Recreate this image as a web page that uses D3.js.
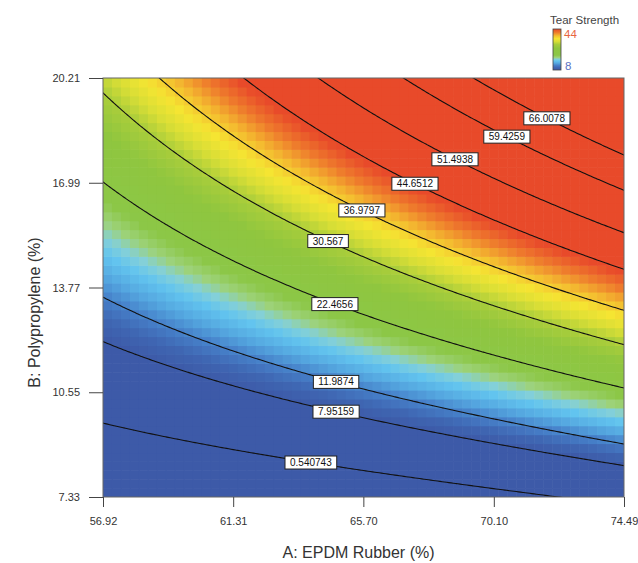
<!DOCTYPE html>
<html>
<head>
<meta charset="utf-8">
<script src="https://cdn.jsdelivr.net/npm/d3@7"></script>
<style>
  body { margin: 0; background: #fff; }
  svg { display: block; font-family: "Liberation Sans", Arial, sans-serif; }
</style>
</head>
<body>
<svg id="chart" width="638" height="563"></svg>
<script>
// axis ranges and tick labels (actual units)
const aDomain = [56.92, 74.49];
const bDomain = [7.33, 20.21];
const xTicks = [56.92, 61.31, 65.70, 70.10, 74.49];
const xTickLabels = ["56.92", "61.31", "65.70", "70.10", "74.49"];
const yTicks = [7.33, 10.55, 13.77, 16.99, 20.21];
const yTickLabels = ["7.33", "10.55", "13.77", "16.99", "20.21"];

// fitted response surface in coded factors (-1..1)
// terms: intercept, A, B, AB, A^2, A^2B
const modelTerms = [26.26, 14.19, 29.44, 10.06, 0.8, -0.33];

// contour levels as printed, and the A value where each label sits
const contourLevels = [0.540743, 7.95159, 11.9874, 22.4656, 30.567, 36.9797, 44.6512, 51.4938, 59.4259, 66.0078];
const contourLabelA = [63.93, 64.78, 64.78, 64.74, 64.51, 65.65, 67.44, 68.79, 70.54, 71.89];

// colour legend
const legendRange = [8, 44];
const colorStopValues = [8, 10, 12, 14, 16, 17.5, 19, 21, 27, 30.5, 33, 35.5, 38, 41, 44];
const colorStopColors = ["#3d5aa8", "#3f66b2", "#4680c9", "#55a8e0", "#62c4ef", "#84d0d8", "#9dd27a",
                         "#8cc747", "#8fc63f", "#a9cd3b", "#d8de36", "#f5e532", "#f4bd30", "#ee7a2c", "#e84a2a"];

const svg = d3.select("#chart");
const plot = { left: 103, right: 624, top: 78, bottom: 497 };

const x = d3.scaleLinear().domain(aDomain).range([plot.left, plot.right]);
const y = d3.scaleLinear().domain(bDomain).range([plot.bottom, plot.top]);
const codeA = d3.scaleLinear().domain(aDomain).range([-1, 1]);
const codeB = d3.scaleLinear().domain(bDomain).range([-1, 1]);
const color = d3.scaleLinear().domain(colorStopValues).range(colorStopColors).clamp(true);

const [c0, cA, cB, cAB, cAA, cAAB] = modelTerms;
function tearStrength(A, B) {
  const a = codeA(A), b = codeB(B);
  return c0 + cA * a + cB * b + cAB * a * b + cAA * a * a + cAAB * a * a * b;
}

svg.append("clipPath").attr("id", "plot-clip")
  .append("rect")
  .attr("x", plot.left).attr("y", plot.top)
  .attr("width", plot.right - plot.left).attr("height", plot.bottom - plot.top);

const g = svg.append("g").attr("clip-path", "url(#plot-clip)");

// pixelated colour map
const nx = 58, ny = 47;
const aStep = (aDomain[1] - aDomain[0]) / nx;
const bStep = (bDomain[1] - bDomain[0]) / ny;
const cells = d3.cross(d3.range(nx), d3.range(ny)).map(([i, j]) => {
  const a0 = aDomain[0] + i * aStep, b0 = bDomain[0] + j * bStep;
  return { a0, a1: a0 + aStep, b0, b1: b0 + bStep, v: tearStrength(a0 + aStep / 2, b0 + bStep / 2) };
});

g.selectAll("rect.cell")
  .data(cells)
  .join("rect")
  .attr("class", "cell")
  .attr("x", d => x(d.a0))
  .attr("y", d => y(d.b1))
  .attr("width", d => x(d.a1) - x(d.a0) + 0.6)
  .attr("height", d => y(d.b0) - y(d.b1) + 0.6)
  .attr("fill", d => color(d.v));

// contour lines on a finer, padded grid so the ring edges fall outside the clip
const res = 4, pad = 4;
const fw = nx * res + 2 * pad, fh = ny * res + 2 * pad;
const fa = aStep / res, fb = bStep / res;
const values = new Array(fw * fh);
for (let j = 0; j < fh; j++) {
  for (let i = 0; i < fw; i++) {
    values[j * fw + i] = tearStrength(aDomain[0] + (i - pad) * fa, bDomain[0] + (j - pad) * fb);
  }
}
const contours = d3.contours().size([fw, fh]).thresholds(contourLevels)(values);
const toPlot = d3.geoTransform({
  point(px, py) {
    this.stream.point(x(aDomain[0] + (px - 0.5 - pad) * fa), y(bDomain[0] + (py - 0.5 - pad) * fb));
  }
});
const path = d3.geoPath(toPlot);

g.selectAll("path.contour")
  .data(contours)
  .join("path")
  .attr("class", "contour")
  .attr("d", path)
  .attr("fill", "none")
  .attr("stroke", "#111")
  .attr("stroke-width", 1.1);

// contour labels, placed on their line (solve the model for B at the label's A)
const labels = contourLevels.map((lv, k) => {
  const A = contourLabelA[k], a = codeA(A);
  const b = (lv - c0 - cA * a - cAA * a * a) / (cB + cAB * a + cAAB * a * a);
  return { text: String(lv), A, B: codeB.invert(b) };
});

const labelG = g.selectAll("g.clabel")
  .data(labels)
  .join("g")
  .attr("class", "clabel")
  .attr("transform", d => `translate(${x(d.A)},${y(d.B)})`);

labelG.append("rect").attr("fill", "#fff").attr("stroke", "#222").attr("stroke-width", 1);
labelG.append("text")
  .attr("text-anchor", "middle")
  .attr("dy", "0.35em")
  .attr("font-size", 10)
  .attr("fill", "#111")
  .text(d => d.text);
labelG.each(function() {
  const w = d3.select(this).select("text").node().getComputedTextLength() + 10;
  d3.select(this).select("rect")
    .attr("x", -w / 2).attr("y", -6.5).attr("width", w).attr("height", 13);
});

// frame
svg.append("rect")
  .attr("x", plot.left).attr("y", plot.top)
  .attr("width", plot.right - plot.left).attr("height", plot.bottom - plot.top)
  .attr("fill", "none").attr("stroke", "#666").attr("stroke-width", 1);

// axes
const xAxis = svg.append("g")
  .attr("transform", `translate(0,${plot.bottom})`)
  .call(d3.axisBottom(x).tickValues(xTicks).tickFormat((d, i) => xTickLabels[i])
    .tickSize(10).tickPadding(10).tickSizeOuter(0));
const yAxis = svg.append("g")
  .attr("transform", `translate(${plot.left},0)`)
  .call(d3.axisLeft(y).tickValues(yTicks).tickFormat((d, i) => yTickLabels[i])
    .tickSize(14).tickPadding(9).tickSizeOuter(0));
[xAxis, yAxis].forEach(ax => {
  ax.select(".domain").remove();
  ax.selectAll(".tick line").attr("stroke", "#444");
  ax.selectAll(".tick text").attr("font-size", 11).attr("fill", "#333")
    .attr("font-family", "'Liberation Sans', Arial, sans-serif");
});

svg.append("text")
  .attr("x", (plot.left + plot.right) / 2 - 5).attr("y", 558)
  .attr("text-anchor", "middle").attr("font-size", 16).attr("fill", "#333")
  .text("A: EPDM Rubber (%)");
svg.append("text")
  .attr("transform", `translate(40,${(plot.top + plot.bottom) / 2 + 25}) rotate(-90)`)
  .attr("text-anchor", "middle").attr("font-size", 16).attr("fill", "#333")
  .text("B: Polypropylene (%)");

// legend
const lg = svg.append("defs").append("linearGradient")
  .attr("id", "legend-grad").attr("x1", 0).attr("x2", 0).attr("y1", 1).attr("y2", 0);
lg.selectAll("stop")
  .data(colorStopValues)
  .join("stop")
  .attr("offset", d => (d - legendRange[0]) / (legendRange[1] - legendRange[0]))
  .attr("stop-color", d => color(d));

const legendY = d3.scaleLinear().domain(legendRange).range([70, 29]);
svg.append("rect")
  .attr("x", 553).attr("y", legendY(legendRange[1]))
  .attr("width", 8).attr("height", legendY(legendRange[0]) - legendY(legendRange[1]))
  .attr("fill", "url(#legend-grad)").attr("stroke", "#444").attr("stroke-width", 0.8);
svg.append("text")
  .attr("x", 550).attr("y", 24).attr("font-size", 11.5).attr("fill", "#444")
  .text("Tear Strength");
svg.append("text")
  .attr("x", 564).attr("y", legendY(legendRange[1]) + 9).attr("font-size", 11.5).attr("fill", "#e8663f")
  .text(legendRange[1]);
svg.append("text")
  .attr("x", 565).attr("y", legendY(legendRange[0])).attr("font-size", 11.5).attr("fill", "#5b72c2")
  .text(legendRange[0]);
</script>
</body>
</html>
